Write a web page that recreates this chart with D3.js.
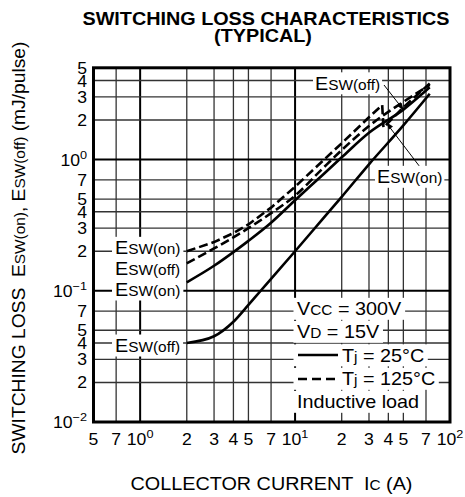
<!DOCTYPE html>
<html>
<head>
<meta charset="utf-8">
<script src="https://cdn.jsdelivr.net/npm/d3@7"></script>
<style>
    body { margin: 0; background: #fff; }
    text { font-family: "Liberation Sans", Arial, Helvetica, sans-serif; fill: #000; white-space: pre; }
</style>
</head>
<body>
<div id="chart"></div>
<script>
// Axis ticks (log-log grid)
const xTicks = [0.5, 0.7, 1, 2, 3, 4, 5, 7, 10, 20, 30, 40, 50, 70, 100];
const xTickLabels = ['5', '7', '10^0', '2', '3', '4', '5', '7', '10^1', '2', '3', '4', '5', '7', '10^2'];
const yTicks = [0.01, 0.02, 0.03, 0.04, 0.05, 0.07, 0.1, 0.2, 0.3, 0.4, 0.5, 0.7, 1, 2, 3, 4, 5];
const yTickLabels = ['10^−2', '2', '3', '4', '5', '7', '10^−1', '2', '3', '4', '5', '7', '10^0', '2', '3', '4', '5'];

// Tj = 25°C (solid)
const icOff25 = [2, 3, 4, 5, 6, 7, 10, 15, 20, 30, 50, 74];
const eOff25 = [0.04, 0.045, 0.058, 0.078, 0.1, 0.123, 0.2, 0.35, 0.52, 0.92, 1.82, 3.17];
const icOn25 = [2, 3, 4, 5, 7, 10, 15, 20, 30, 50, 74];
const eOn25 = [0.116, 0.155, 0.197, 0.24, 0.33, 0.49, 0.76, 1.04, 1.6, 2.4, 3.55];

// Tj = 125°C (dashed)
const icOff125 = [2, 3, 4, 5, 7, 10, 15, 20, 30, 50, 74];
const eOff125 = [0.162, 0.21, 0.255, 0.3, 0.39, 0.53, 0.85, 1.18, 1.8, 2.75, 3.7];
const icOn125 = [2, 3, 4, 5, 7, 10, 15, 20, 30, 36.5, 37.2, 50, 74];
const eOn125 = [0.2, 0.235, 0.275, 0.32, 0.43, 0.62, 0.97, 1.33, 2.1, 2.6, 1.75, 2.5, 3.8];

const SX = 1.1; // glyphs in the reference are a bit wider than Liberation Sans

const svg = d3.select('#chart').append('svg')
    .attr('width', 465)
    .attr('height', 497);

const x = d3.scaleLog().domain([0.5, 100]).range([93.5, 450]);
const y = d3.scaleLog().domain([0.01, 5]).range([422, 67.8]);

// Text made of parts: [text, size, rise, weight]
function addText(parent, tx, ty, parts, anchor, bg, extraLeft, rot) {
    const g = parent.append('g')
        .attr('transform', `translate(${tx},${ty})${rot ? ' rotate(' + rot + ')' : ''} scale(${SX},1)`);
    const rect = bg != null ? g.append('rect').attr('fill', '#fff') : null;
    const t = g.append('text')
        .attr('text-anchor', anchor || 'start')
        .attr('xml:space', 'preserve');
    let rise = 0;
    parts.forEach(p => {
        const r = p[2] || 0;
        t.append('tspan')
            .attr('font-size', p[1])
            .attr('font-weight', p[3] || null)
            .attr('dy', rise - r)
            .text(p[0]);
        rise = r;
    });
    if (rect) {
        const b = t.node().getBBox();
        const el = (extraLeft || 0) / SX;
        rect.attr('x', b.x - bg / SX - el)
            .attr('y', b.y - 1)
            .attr('width', b.width + 2 * bg / SX + el)
            .attr('height', b.height + 2);
    }
    return g;
}

function tickParts(label, size) {
    const i = label.indexOf('^');
    if (i < 0) return [[label, size]];
    return [[label.slice(0, i), size], [label.slice(i + 1), size * 0.72, 7]];
}

// Grid lines
const isDecade = v => Math.abs(Math.log10(v) - Math.round(Math.log10(v))) < 1e-9;
const grid = svg.append('g');
grid.selectAll('.vgrid')
    .data(xTicks.slice(1, -1))
    .enter().append('line')
    .attr('x1', d => x(d)).attr('x2', d => x(d))
    .attr('y1', y(5)).attr('y2', y(0.01))
    .attr('stroke', d => isDecade(d) ? '#000' : '#333')
    .attr('stroke-width', d => isDecade(d) ? 2 : 1.3);
grid.selectAll('.hgrid')
    .data(yTicks.slice(1, -1))
    .enter().append('line')
    .attr('y1', d => y(d)).attr('y2', d => y(d))
    .attr('x1', x(0.5)).attr('x2', x(100))
    .attr('stroke', d => isDecade(d) ? '#000' : '#333')
    .attr('stroke-width', d => isDecade(d) ? 2 : 1.3);

// Curves
const series = [
    { ic: icOff25, e: eOff25, dash: null, curve: d3.curveMonotoneX },
    { ic: icOn25, e: eOn25, dash: null, curve: d3.curveMonotoneX },
    { ic: icOff125, e: eOff125, dash: '9,4', curve: d3.curveMonotoneX },
    { ic: icOn125, e: eOn125, dash: '9,4', curve: d3.curveLinear }
];
series.forEach(s => {
    const pts = s.ic.map((v, i) => [v, s.e[i]]);
    const line = d3.line().x(d => x(d[0])).y(d => y(d[1])).curve(s.curve);
    svg.append('path')
        .attr('d', line(pts))
        .attr('fill', 'none')
        .attr('stroke', '#000')
        .attr('stroke-width', 2.6)
        .attr('stroke-dasharray', s.dash);
});

// Curve labels on the left
const esw = sub => [['E', 18], ['SW(' + sub + ')', 14]];
addText(svg, 115, 254, esw('on'), 'start', 3);
addText(svg, 115, 275, esw('off'), 'start', 3);
addText(svg, 115, 295.7, esw('on'), 'start', 3);
addText(svg, 115, 351.7, esw('off'), 'start', 3);

// Labels with leaders at upper right
svg.append('line').attr('x1', 384).attr('y1', 85).attr('x2', 402).attr('y2', 108)
    .attr('stroke', '#000').attr('stroke-width', 1);
svg.append('path').attr('d', 'M404,111 L397.5,106 L401.5,103 Z').attr('fill', '#000');
svg.append('line').attr('x1', 420).attr('y1', 167).attr('x2', 388).attr('y2', 125)
    .attr('stroke', '#000').attr('stroke-width', 1);
svg.append('path').attr('d', 'M386,122 L393,126.5 L389,129.5 Z').attr('fill', '#000');
addText(svg, 315, 89.5, esw('off'), 'start', 2);
addText(svg, 377, 183, esw('on'), 'start', 2);

// Legend block
addText(svg, 297, 315, [['V', 18], ['CC', 14], [' = 300V', 18]], 'start', 3.5);
addText(svg, 297, 338, [['V', 18], ['D', 14], [' = 15V', 18]], 'start', 3.5);
addText(svg, 342, 361.5, [['T', 18], ['j', 14], [' = 25°C', 18]], 'start', 3.5, 45);
addText(svg, 342, 385, [['T', 18], ['j', 14], [' = 125°C', 18]], 'start', 3.5, 45);
addText(svg, 297, 408, [['Inductive load', 18]], 'start', 3.5);
svg.append('line').attr('x1', 298).attr('x2', 338).attr('y1', 355).attr('y2', 355)
    .attr('stroke', '#000').attr('stroke-width', 2.6);
svg.append('line').attr('x1', 298).attr('x2', 338).attr('y1', 379).attr('y2', 379)
    .attr('stroke', '#000').attr('stroke-width', 2.6).attr('stroke-dasharray', '9,5');

// Frame
svg.append('rect')
    .attr('x', x(0.5)).attr('y', y(5))
    .attr('width', x(100) - x(0.5)).attr('height', y(0.01) - y(5))
    .attr('fill', 'none').attr('stroke', '#000').attr('stroke-width', 3);

// Tick labels
xTicks.forEach((v, i) => addText(svg, x(v), 445, tickParts(xTickLabels[i], 16), 'middle'));
yTicks.forEach((v, i) => addText(svg, 87, y(v) + 6, tickParts(yTickLabels[i], 16), 'end'));

// Titles
addText(svg, 266, 25, [['SWITCHING LOSS CHARACTERISTICS', 18, 0, 'bold']], 'middle');
addText(svg, 263, 42.3, [['(TYPICAL)', 18, 0, 'bold']], 'middle');
addText(svg, 271.5, 490, [['COLLECTOR CURRENT  I', 18], ['C', 14], [' (A)', 18]], 'middle');
addText(svg, 25, 248, [['SWITCHING LOSS  E', 17.5], ['SW(on)', 14], [', E', 17.5], ['SW(off)', 14], [' (mJ/pulse)', 17.5]],
    'middle', null, 0, -90);
</script>
</body>
</html>
